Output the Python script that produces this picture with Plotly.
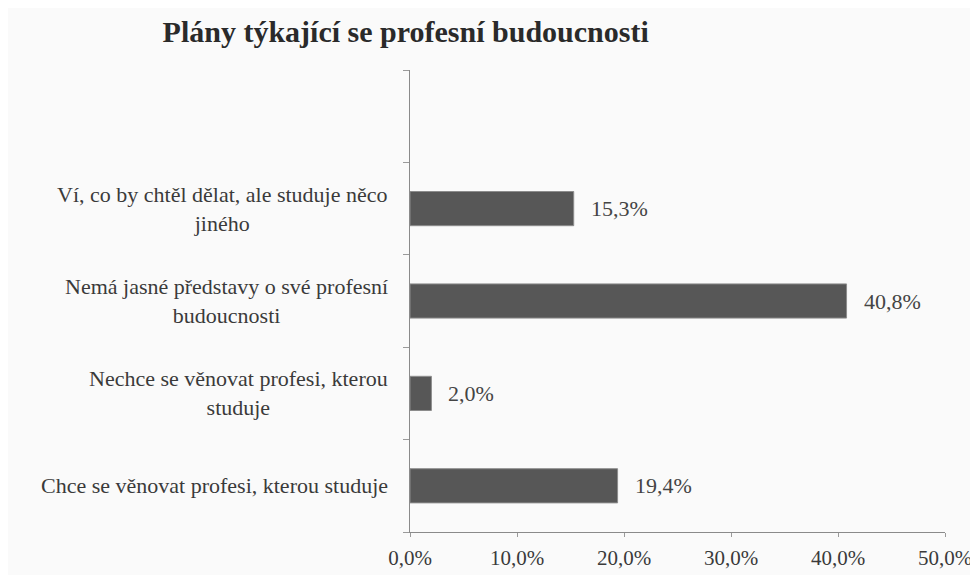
import plotly.graph_objects as go

categories = [
    "Chce se věnovat profesi, kterou studuje",
    "Nechce se věnovat profesi, kterou<br>studuje",
    "Nemá jasné představy o své profesní<br>budoucnosti",
    "Ví, co by chtěl dělat, ale studuje něco<br>jiného",
]
values = [19.4, 2.0, 40.8, 15.3]
x_ticks = [0, 10, 20, 30, 40, 50]
x_tick_labels = ["0,0%", "10,0%", "20,0%", "30,0%", "40,0%", "50,0%"]
title_text = "Plány týkající se profesní budoucnosti"

font_family = "Liberation Serif"
ypos = list(range(len(categories)))

fig = go.Figure()
fig.add_trace(go.Bar(
    y=ypos, x=values, orientation="h", width=0.37,
    marker=dict(color="#575757", line=dict(color="#8c8c8c", width=1)),
    hoverinfo="skip",
))

annotations = []
for yi, v in zip(ypos, values):
    annotations.append(dict(
        x=v, y=yi, xref="x", yref="y", text=f"{v:.1f}%".replace(".", ","),
        showarrow=False, xanchor="left", yanchor="middle", xshift=15,
        font=dict(family=font_family, size=22, color="#444444"),
    ))
for yi, c in zip(ypos, categories):
    annotations.append(dict(
        x=0, y=yi, xref="paper", yref="y", text=c, align="center",
        showarrow=False, xanchor="right", yanchor="middle", xshift=-20,
        font=dict(family=font_family, size=22, color="#3a3a3a"),
    ))

fig.update_layout(
    width=970, height=567,
    margin=dict(l=402, r=33, t=62, b=43),
    paper_bgcolor="#fafafa", plot_bgcolor="#fafafa",
    showlegend=False,
    title=dict(text=title_text, x=0.41, xanchor="center", y=0.958, yanchor="middle",
               font=dict(family=font_family, size=30, color="#2a2a2a", weight="bold")),
    font=dict(family=font_family, size=21, color="#3a3a3a"),
    annotations=annotations,
)
fig.update_xaxes(
    range=[0, 50], tickvals=x_ticks, ticktext=x_tick_labels, automargin=False,
    showgrid=False, zeroline=False, showline=True, linecolor="#8a8a8a", linewidth=1,
    ticks="outside", ticklen=4, tickcolor="#9a9a9a", ticklabelstandoff=3,
    tickfont=dict(family=font_family, size=21, color="#3a3a3a"),
)
fig.update_yaxes(
    range=[-0.5, 4.5], tickvals=[-0.5, 0.5, 1.5, 2.5, 3.5, 4.5], showticklabels=False,
    automargin=False,
    showgrid=False, zeroline=False, showline=True, linecolor="#8a8a8a", linewidth=1,
    ticks="outside", ticklen=6, tickcolor="#9a9a9a",
)

fig.write_html("out.html")
